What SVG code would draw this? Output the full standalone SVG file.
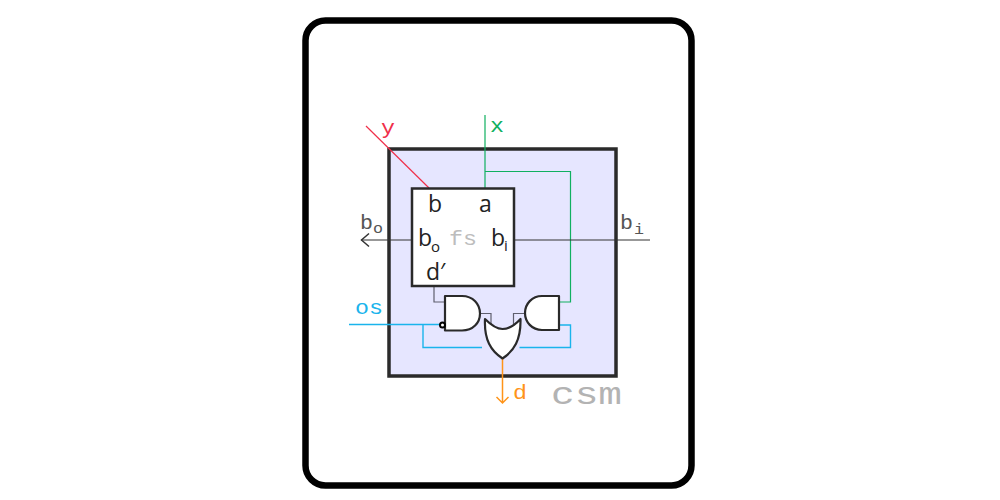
<svg xmlns="http://www.w3.org/2000/svg" width="1000" height="500" viewBox="0 0 1000 500">
<style>
.w{fill:none;stroke-width:1.2}
.k{stroke:#5f5f6e}
.g{stroke:#10b060}
.c{stroke:#1ab4ec;stroke-width:1.4}
.gate{fill:#fff;stroke:#2a2a2a;stroke-width:2.200;stroke-linejoin:round}
.m{font-family:"Liberation Mono",monospace;font-size:20px}
.s{font-family:"Open Sans","Noto Sans",sans-serif;font-size:23px;fill:#222}
</style>
<rect id="frame" x="305.500" y="20.500" width="386" height="465" rx="20" fill="#fff" stroke="#000" stroke-width="6.500"/>
<g id="csm"><rect x="389" y="149" width="227" height="227" fill="#e6e6ff" stroke="#2a2a2a" stroke-width="3.500"/><text x="551" y="404" font-family="Liberation Mono,monospace" font-size="31" fill="#b3b3b3" textLength="71" lengthAdjust="spacingAndGlyphs">csm</text></g>
<g id="connectors">
<path class="w" stroke="#f0304a" d="M366 126L429 188"/>
<path class="w g" d="M485 115V188M485 171.500H570.500V302H559"/>
<path class="w" stroke="#333" d="M412 240H361M514 240H650"/>
<path d="M369 233.500L361.500 240L369 246.500" fill="none" stroke="#333" stroke-width="1.500"/>
<path class="w k" d="M434 286V302H445M480 313.500H491V326M525 313.500H513.500V326"/>
<path class="w c" d="M349 324.500H440M423 324.500V347.500H482M519.500 347.500H570.500V325H559"/>
<path fill="none" stroke="#ff9419" stroke-width="1.500" d="M502.500 359V403M496.500 397L502.500 403L508.500 397"/>
</g>
<g id="fs"><rect x="412" y="188.500" width="102" height="97.500" fill="#fff" stroke="#2a2a2a" stroke-width="2.500"/>
<text class="s" x="428" y="212">b</text><text class="s" x="479" y="212">a</text>
<text class="s" x="418" y="246">b</text><text class="s" x="431" y="252" style="font-size:15px">o</text>
<text class="s" x="491" y="246">b</text><text class="s" x="504" y="251" style="font-size:15px">i</text>
<text class="s" x="426" y="280">d′</text>
<text class="m" x="449" y="245" fill="#bdbdbd" textLength="28" lengthAdjust="spacingAndGlyphs">fs</text></g>
<g id="and1"><path class="gate" d="M445 296H462C473 296 480 304 480 313.500C480 323 473 330.500 462 330.500H445Z"/><circle cx="442.500" cy="325" r="2.500" fill="#fff" stroke="#000" stroke-width="2"/></g>
<g id="and2"><path class="gate" d="M559 296H542C532 296 525 304 525 313C525 322 532 330 542 330H559Z"/></g>
<g id="or"><path class="gate" d="M485 319C491 325 497 329 502.500 329C509 329 515 325 520.500 319C521 340 514 351 502.500 358.500C491 351 484 340 485 319Z"/></g>
<g id="labels">
<text class="m" x="381" y="134" fill="#f0304a" textLength="14" lengthAdjust="spacingAndGlyphs">y</text>
<text class="m" x="490" y="132" fill="#10b060" textLength="14" lengthAdjust="spacingAndGlyphs">x</text>
<text class="m" x="360" y="229" fill="#555" textLength="13" lengthAdjust="spacingAndGlyphs">b</text><text class="m" x="373" y="233" fill="#555" style="font-size:14px" textLength="10" lengthAdjust="spacingAndGlyphs">o</text>
<text class="m" x="620" y="229" fill="#555" textLength="13" lengthAdjust="spacingAndGlyphs">b</text><text class="m" x="634" y="234" fill="#555" style="font-size:14px" textLength="10" lengthAdjust="spacingAndGlyphs">i</text>
<text class="m" x="355" y="314" fill="#1ab4ec" textLength="28" lengthAdjust="spacingAndGlyphs">os</text>
<text class="m" x="513" y="399" fill="#ff9419" textLength="14" lengthAdjust="spacingAndGlyphs">d</text>
</g>
</svg>
